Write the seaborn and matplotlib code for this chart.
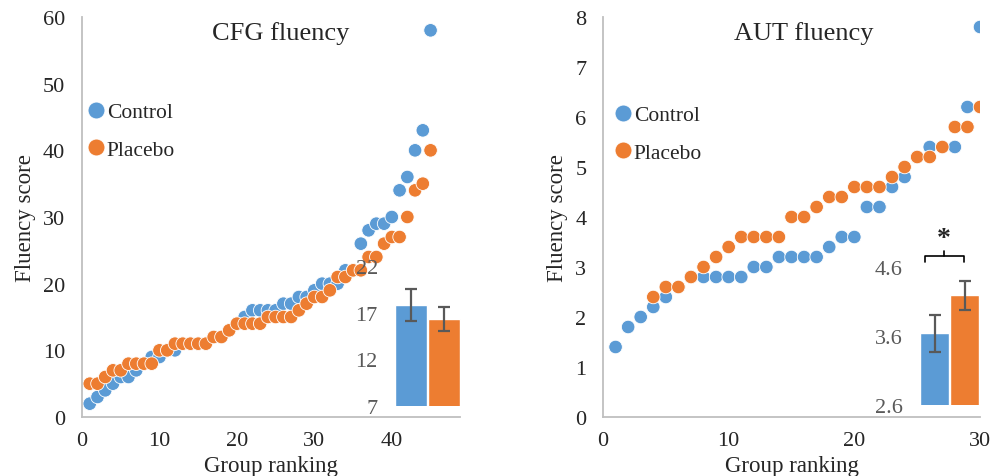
import pandas as pd
import seaborn as sns
import matplotlib.pyplot as plt

# CFG fluency, sorted scores per group (rank 1..45)
cfg_control = [2, 3, 4, 5, 6, 6, 7, 8, 9, 9, 10, 10, 11, 11, 11, 11, 12, 12, 13, 14,
               15, 16, 16, 16, 16, 17, 17, 18, 18, 19, 20, 20, 20, 22, 22, 26, 28, 29, 29, 30,
               34, 36, 40, 43, 58]
cfg_placebo = [5, 5, 6, 7, 7, 8, 8, 8, 8, 10, 10, 11, 11, 11, 11, 11, 12, 12, 13, 14,
               14, 14, 14, 15, 15, 15, 15, 16, 17, 18, 18, 19, 21, 21, 22, 22, 24, 24, 26, 27,
               27, 30, 34, 35, 40]

# AUT fluency (control ranks 1..30, placebo ranks 4..30)
aut_control = [1.4, 1.8, 2.0, 2.2, 2.4, 2.6, 2.8, 2.8, 2.8, 2.8, 2.8, 3.0, 3.0, 3.2, 3.2,
               3.2, 3.2, 3.4, 3.6, 3.6, 4.2, 4.2, 4.6, 4.8, 5.2, 5.4, 5.4, 5.4, 6.2, 7.8]
aut_placebo = [2.4, 2.6, 2.6, 2.8, 3.0, 3.2, 3.4, 3.6, 3.6, 3.6, 3.6, 4.0, 4.0, 4.2, 4.4,
               4.4, 4.6, 4.6, 4.6, 4.8, 5.0, 5.2, 5.2, 5.4, 5.8, 5.8, 6.2]
aut_placebo_first_rank = 4

groups = ['Control', 'Placebo']
cfg_means = [17.8, 16.3]
cfg_se = [1.7, 1.3]
aut_means = [3.64, 4.19]
aut_se = [0.27, 0.21]

colors = ['#5B9BD5', '#ED7D31']

sns.set_style('white')
plt.rcParams['font.family'] = ['Liberation Serif', 'DejaVu Serif']

W, H = 1007, 477
fig = plt.figure(figsize=(W / 100, H / 100), dpi=100)


def px_axes(x0, x1, y0, y1):
    # pixel box (left, right, top, bottom) -> figure fraction axes
    return fig.add_axes([x0 / W, 1 - y1 / H, (x1 - x0) / W, (y1 - y0) / H])


def scatter_panel(ax, ctrl, plac, plac_start, title, title_x, xmax, xticks, ymax, yticks, leg_pos):
    df = pd.concat([
        pd.DataFrame({'rank': range(1, len(ctrl) + 1), 'score': ctrl, 'group': 'Control'}),
        pd.DataFrame({'rank': range(plac_start, plac_start + len(plac)), 'score': plac, 'group': 'Placebo'}),
    ])
    sns.scatterplot(data=df, x='rank', y='score', hue='group', palette=colors,
                    s=95, edgecolor='white', linewidth=0.6, ax=ax)
    ax.set_xlim(0, xmax)
    ax.set_ylim(0, ymax)
    ax.set_xticks(xticks)
    ax.set_yticks(yticks)
    for s in ['top', 'right']:
        ax.spines[s].set_visible(False)
    for s in ['left', 'bottom']:
        ax.spines[s].set_color('#BFBFBF')
        ax.spines[s].set_linewidth(1.3)
    ax.tick_params(axis='x', length=0, labelsize=16, pad=10)
    ax.tick_params(axis='y', length=0, labelsize=16, pad=12)
    ax.set_xlabel('Group ranking', fontsize=16.5, labelpad=4)
    ax.set_ylabel('Fluency score', fontsize=16.5, labelpad=5)
    ax.text(title_x, 0.962, title, transform=ax.transAxes, ha='center', va='center', fontsize=19)
    handles, labels = ax.get_legend_handles_labels()
    ax.legend(handles, labels, loc='upper left', bbox_to_anchor=leg_pos, frameon=False,
              fontsize=15.5, borderpad=0, borderaxespad=0, handlelength=0.6,
              handletextpad=0.2, labelspacing=0.8, markerscale=1.25)


def bar_inset(ax, means, se, ylim, yticks):
    sns.barplot(x=groups, y=means, hue=groups, palette=colors, saturation=1,
                width=0.96, legend=False, ax=ax)
    ax.errorbar([0, 1], means, yerr=se, fmt='none', ecolor='#595959',
                elinewidth=1.6, capsize=4.5, capthick=1.6)
    ax.set_ylim(*ylim)
    ax.set_xlim(-0.5, 1.5)
    ax.set_yticks(yticks)
    ax.set_xticks([])
    ax.set_xlabel('')
    ax.set_ylabel('')
    ax.patch.set_alpha(0)
    for s in ax.spines.values():
        s.set_visible(False)
    ax.tick_params(axis='y', length=0, labelsize=16, colors='#595959', pad=12)


# left panel
ax1 = px_axes(82, 460, 18, 418)
scatter_panel(ax1, cfg_control, cfg_placebo, 1, 'CFG fluency', 0.526,
              48.8, [0, 10, 20, 30, 40], 60, range(0, 61, 10), (0.02, 0.787))
ins1 = px_axes(394.5, 460.5, 267, 407)
bar_inset(ins1, cfg_means, cfg_se, (7, 22), [7, 12, 17, 22])

# right panel
ax2 = px_axes(603, 980, 18, 418)
scatter_panel(ax2, aut_control, aut_placebo, aut_placebo_first_rank, 'AUT fluency', 0.533,
              30, [0, 10, 20, 30], 8, range(0, 9), (0.036, 0.779))
ins2 = px_axes(919.5, 979.5, 268, 406)
bar_inset(ins2, aut_means, aut_se, (2.6, 4.6), [2.6, 3.6, 4.6])
# significance bracket
ins2.plot([-0.32, -0.32, 0.98, 0.98], [4.67, 4.76, 4.76, 4.67], color='black', lw=1.2, clip_on=False)
ins2.plot([0.32, 0.32], [4.76, 4.83], color='black', lw=1.2, clip_on=False)
ins2.text(0.32, 5.02, '*', ha='center', va='center', fontsize=20, fontweight='bold')

fig.savefig('out.png', dpi=100)
